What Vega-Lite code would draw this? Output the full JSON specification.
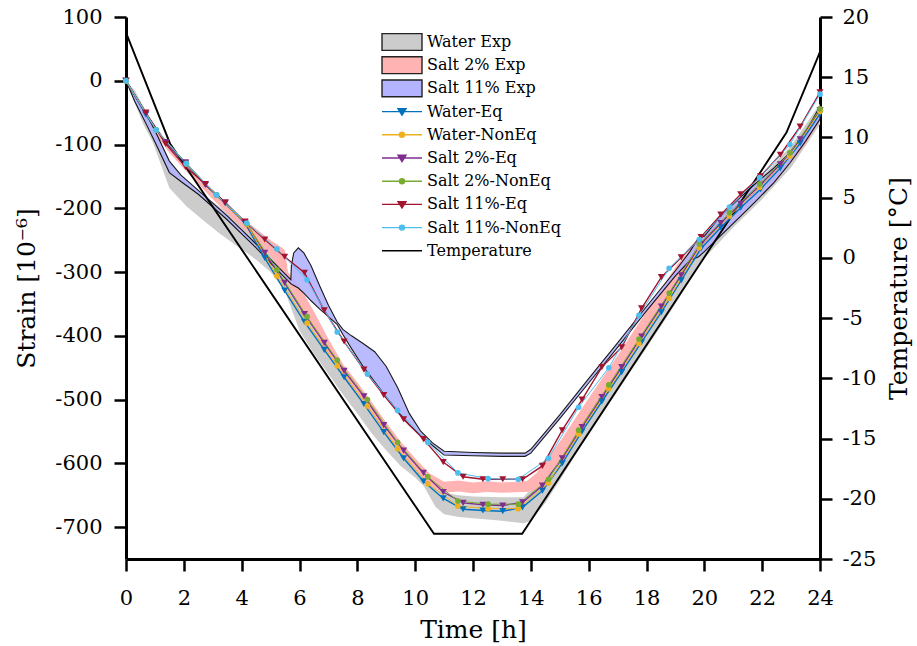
{
  "$schema": "https://vega.github.io/schema/vega-lite/v6.json",
  "width": 694,
  "height": 542,
  "autosize": {"type": "none"},
  "padding": {"left": 126, "top": 17, "right": 97, "bottom": 87},
  "background": "white",
  "config": {
    "view": {"stroke": null},
    "font": "DejaVu Serif",
    "axis": {
      "domainColor": "black", "domainWidth": 3, "tickColor": "black", "tickWidth": 2.5, "tickSize": 12,
      "labelFont": "DejaVu Serif", "labelFontSize": 21, "labelColor": "black", "labelPadding": 10,
      "titleFont": "DejaVu Serif", "titleFontSize": 25, "titleFontWeight": "normal", "titleColor": "black", "grid": false
    },
    "legend": {
      "padding": 0, "symbolSize": 100, "symbolStrokeWidth": 1.4, "symbolOffset": 12, "symbolOpacity": 1,
      "labelFont": "DejaVu Serif", "labelFontSize": 16, "labelColor": "black", "labelOffset": 17,
      "rowPadding": -0.8, "labelLimit": 400
    }
  },
  "datasets": {
    "bands": [
      {"series": "Water Exp", "t": 0, "hi": 0, "lo": 0},
      {"series": "Water Exp", "t": 0.3, "hi": -15, "lo": -35},
      {"series": "Water Exp", "t": 0.6, "hi": -40, "lo": -68},
      {"series": "Water Exp", "t": 0.94, "hi": -70, "lo": -98},
      {"series": "Water Exp", "t": 1.5, "hi": -128, "lo": -168},
      {"series": "Water Exp", "t": 2.1, "hi": -160, "lo": -197},
      {"series": "Water Exp", "t": 2.7, "hi": -180, "lo": -220},
      {"series": "Water Exp", "t": 3.25, "hi": -198, "lo": -240},
      {"series": "Water Exp", "t": 3.8, "hi": -216, "lo": -258},
      {"series": "Water Exp", "t": 4.4, "hi": -232, "lo": -277},
      {"series": "Water Exp", "t": 5.0, "hi": -256, "lo": -300},
      {"series": "Water Exp", "t": 5.5, "hi": -290, "lo": -330},
      {"series": "Water Exp", "t": 6.0, "hi": -340, "lo": -392},
      {"series": "Water Exp", "t": 6.5, "hi": -385, "lo": -428},
      {"series": "Water Exp", "t": 7.0, "hi": -420, "lo": -460},
      {"series": "Water Exp", "t": 7.5, "hi": -452, "lo": -492},
      {"series": "Water Exp", "t": 8.0, "hi": -482, "lo": -522},
      {"series": "Water Exp", "t": 8.5, "hi": -514, "lo": -553},
      {"series": "Water Exp", "t": 9.0, "hi": -547, "lo": -580},
      {"series": "Water Exp", "t": 9.5, "hi": -578, "lo": -604},
      {"series": "Water Exp", "t": 10.0, "hi": -604, "lo": -622},
      {"series": "Water Exp", "t": 10.3, "hi": -618, "lo": -636},
      {"series": "Water Exp", "t": 10.7, "hi": -635, "lo": -668},
      {"series": "Water Exp", "t": 11.0, "hi": -646, "lo": -680},
      {"series": "Water Exp", "t": 11.5, "hi": -650, "lo": -684},
      {"series": "Water Exp", "t": 12.0, "hi": -652, "lo": -686},
      {"series": "Water Exp", "t": 13.0, "hi": -653, "lo": -690},
      {"series": "Water Exp", "t": 13.75, "hi": -653, "lo": -694},
      {"series": "Water Exp", "t": 14.0, "hi": -640, "lo": -690},
      {"series": "Water Exp", "t": 14.5, "hi": -618, "lo": -662},
      {"series": "Water Exp", "t": 15.0, "hi": -587, "lo": -627},
      {"series": "Water Exp", "t": 15.5, "hi": -550, "lo": -590},
      {"series": "Water Exp", "t": 16.0, "hi": -515, "lo": -555},
      {"series": "Water Exp", "t": 16.5, "hi": -481, "lo": -521},
      {"series": "Water Exp", "t": 17.0, "hi": -447, "lo": -487},
      {"series": "Water Exp", "t": 17.5, "hi": -413, "lo": -453},
      {"series": "Water Exp", "t": 18.0, "hi": -379, "lo": -419},
      {"series": "Water Exp", "t": 18.5, "hi": -345, "lo": -385},
      {"series": "Water Exp", "t": 19.0, "hi": -310, "lo": -350},
      {"series": "Water Exp", "t": 19.5, "hi": -272, "lo": -312},
      {"series": "Water Exp", "t": 19.8, "hi": -250, "lo": -288},
      {"series": "Water Exp", "t": 20.3, "hi": -226, "lo": -264},
      {"series": "Water Exp", "t": 21.0, "hi": -193, "lo": -230},
      {"series": "Water Exp", "t": 22.0, "hi": -150, "lo": -186},
      {"series": "Water Exp", "t": 23.0, "hi": -102, "lo": -136},
      {"series": "Water Exp", "t": 24.0, "hi": -36, "lo": -68},

      {"series": "Salt 2% Exp", "t": 0, "hi": 0, "lo": 0},
      {"series": "Salt 2% Exp", "t": 0.5, "hi": -35, "lo": -40},
      {"series": "Salt 2% Exp", "t": 1.0, "hi": -74, "lo": -82},
      {"series": "Salt 2% Exp", "t": 1.5, "hi": -103, "lo": -113},
      {"series": "Salt 2% Exp", "t": 2.0, "hi": -126, "lo": -138},
      {"series": "Salt 2% Exp", "t": 3.0, "hi": -174, "lo": -186},
      {"series": "Salt 2% Exp", "t": 4.0, "hi": -216, "lo": -230},
      {"series": "Salt 2% Exp", "t": 4.5, "hi": -232, "lo": -248},
      {"series": "Salt 2% Exp", "t": 5.0, "hi": -250, "lo": -274},
      {"series": "Salt 2% Exp", "t": 5.4, "hi": -262, "lo": -300},
      {"series": "Salt 2% Exp", "t": 5.5, "hi": -266, "lo": -312},
      {"series": "Salt 2% Exp", "t": 5.6, "hi": -300, "lo": -318},
      {"series": "Salt 2% Exp", "t": 6.0, "hi": -322, "lo": -352},
      {"series": "Salt 2% Exp", "t": 6.5, "hi": -362, "lo": -392},
      {"series": "Salt 2% Exp", "t": 7.0, "hi": -405, "lo": -428},
      {"series": "Salt 2% Exp", "t": 7.5, "hi": -444, "lo": -462},
      {"series": "Salt 2% Exp", "t": 8.0, "hi": -473, "lo": -491},
      {"series": "Salt 2% Exp", "t": 8.5, "hi": -504, "lo": -522},
      {"series": "Salt 2% Exp", "t": 9.0, "hi": -536, "lo": -554},
      {"series": "Salt 2% Exp", "t": 9.5, "hi": -566, "lo": -584},
      {"series": "Salt 2% Exp", "t": 10.0, "hi": -592, "lo": -610},
      {"series": "Salt 2% Exp", "t": 10.5, "hi": -616, "lo": -634},
      {"series": "Salt 2% Exp", "t": 11.0, "hi": -629, "lo": -646},
      {"series": "Salt 2% Exp", "t": 11.5, "hi": -627, "lo": -644},
      {"series": "Salt 2% Exp", "t": 12.0, "hi": -630, "lo": -647},
      {"series": "Salt 2% Exp", "t": 12.5, "hi": -628, "lo": -645},
      {"series": "Salt 2% Exp", "t": 13.0, "hi": -630, "lo": -646},
      {"series": "Salt 2% Exp", "t": 13.85, "hi": -628, "lo": -645},
      {"series": "Salt 2% Exp", "t": 14.2, "hi": -615, "lo": -642},
      {"series": "Salt 2% Exp", "t": 15.0, "hi": -566, "lo": -595},
      {"series": "Salt 2% Exp", "t": 16.0, "hi": -498, "lo": -526},
      {"series": "Salt 2% Exp", "t": 17.0, "hi": -431, "lo": -457},
      {"series": "Salt 2% Exp", "t": 18.0, "hi": -362, "lo": -388},
      {"series": "Salt 2% Exp", "t": 19.0, "hi": -292, "lo": -318},
      {"series": "Salt 2% Exp", "t": 19.8, "hi": -248, "lo": -272},
      {"series": "Salt 2% Exp", "t": 20.5, "hi": -220, "lo": -242},
      {"series": "Salt 2% Exp", "t": 21.5, "hi": -178, "lo": -200},
      {"series": "Salt 2% Exp", "t": 22.5, "hi": -135, "lo": -156},
      {"series": "Salt 2% Exp", "t": 23.5, "hi": -80, "lo": -100},
      {"series": "Salt 2% Exp", "t": 24.0, "hi": -40, "lo": -62},

      {"series": "Salt 11% Exp", "t": 0, "hi": 0, "lo": 0},
      {"series": "Salt 11% Exp", "t": 0.3, "hi": -22, "lo": -32},
      {"series": "Salt 11% Exp", "t": 0.7, "hi": -52, "lo": -68},
      {"series": "Salt 11% Exp", "t": 1.0, "hi": -78, "lo": -96},
      {"series": "Salt 11% Exp", "t": 1.5, "hi": -126, "lo": -144},
      {"series": "Salt 11% Exp", "t": 1.9, "hi": -148, "lo": -158},
      {"series": "Salt 11% Exp", "t": 2.5, "hi": -172, "lo": -178},
      {"series": "Salt 11% Exp", "t": 3.0, "hi": -192, "lo": -198},
      {"series": "Salt 11% Exp", "t": 3.5, "hi": -212, "lo": -218},
      {"series": "Salt 11% Exp", "t": 4.0, "hi": -234, "lo": -240},
      {"series": "Salt 11% Exp", "t": 4.5, "hi": -256, "lo": -262},
      {"series": "Salt 11% Exp", "t": 5.0, "hi": -280, "lo": -286},
      {"series": "Salt 11% Exp", "t": 5.5, "hi": -303, "lo": -309},
      {"series": "Salt 11% Exp", "t": 5.7, "hi": -312, "lo": -318},
      {"series": "Salt 11% Exp", "t": 5.72, "hi": -290, "lo": -319},
      {"series": "Salt 11% Exp", "t": 5.8, "hi": -270, "lo": -321},
      {"series": "Salt 11% Exp", "t": 5.96, "hi": -262, "lo": -325},
      {"series": "Salt 11% Exp", "t": 6.15, "hi": -270, "lo": -333},
      {"series": "Salt 11% Exp", "t": 6.4, "hi": -290, "lo": -345},
      {"series": "Salt 11% Exp", "t": 6.7, "hi": -322, "lo": -358},
      {"series": "Salt 11% Exp", "t": 7.0, "hi": -352, "lo": -370},
      {"series": "Salt 11% Exp", "t": 7.3, "hi": -378, "lo": -382},
      {"series": "Salt 11% Exp", "t": 7.5, "hi": -390, "lo": -398},
      {"series": "Salt 11% Exp", "t": 7.8, "hi": -400, "lo": -420},
      {"series": "Salt 11% Exp", "t": 8.2, "hi": -412, "lo": -448},
      {"series": "Salt 11% Exp", "t": 8.6, "hi": -425, "lo": -472},
      {"series": "Salt 11% Exp", "t": 9.0, "hi": -448, "lo": -496},
      {"series": "Salt 11% Exp", "t": 9.4, "hi": -482, "lo": -518},
      {"series": "Salt 11% Exp", "t": 9.8, "hi": -522, "lo": -540},
      {"series": "Salt 11% Exp", "t": 10.2, "hi": -550, "lo": -556},
      {"series": "Salt 11% Exp", "t": 10.6, "hi": -568, "lo": -572},
      {"series": "Salt 11% Exp", "t": 11.0, "hi": -581, "lo": -587},
      {"series": "Salt 11% Exp", "t": 12.0, "hi": -583, "lo": -588},
      {"series": "Salt 11% Exp", "t": 13.0, "hi": -584, "lo": -589},
      {"series": "Salt 11% Exp", "t": 13.8, "hi": -584, "lo": -589},
      {"series": "Salt 11% Exp", "t": 14.0, "hi": -578, "lo": -584},
      {"series": "Salt 11% Exp", "t": 15.0, "hi": -524, "lo": -530},
      {"series": "Salt 11% Exp", "t": 16.0, "hi": -467, "lo": -474},
      {"series": "Salt 11% Exp", "t": 17.0, "hi": -411, "lo": -418},
      {"series": "Salt 11% Exp", "t": 18.0, "hi": -354, "lo": -361},
      {"series": "Salt 11% Exp", "t": 19.0, "hi": -298, "lo": -306},
      {"series": "Salt 11% Exp", "t": 19.5, "hi": -268, "lo": -282},
      {"series": "Salt 11% Exp", "t": 19.8, "hi": -246, "lo": -276},
      {"series": "Salt 11% Exp", "t": 20.0, "hi": -244, "lo": -268},
      {"series": "Salt 11% Exp", "t": 20.54, "hi": -213, "lo": -244},
      {"series": "Salt 11% Exp", "t": 21.24, "hi": -183, "lo": -213},
      {"series": "Salt 11% Exp", "t": 21.8, "hi": -160, "lo": -188},
      {"series": "Salt 11% Exp", "t": 22.4, "hi": -137, "lo": -160},
      {"series": "Salt 11% Exp", "t": 22.96, "hi": -113, "lo": -129},
      {"series": "Salt 11% Exp", "t": 23.5, "hi": -80, "lo": -95},
      {"series": "Salt 11% Exp", "t": 24.0, "hi": -40, "lo": -60}
    ],
    "temp": [
      {"t": 0, "T": 18.7},
      {"t": 1.52, "T": 9.5},
      {"t": 10.65, "T": -22.9},
      {"t": 13.7, "T": -22.9},
      {"t": 22.84, "T": 10.4},
      {"t": 23.88, "T": 16.4},
      {"t": 24, "T": 17.1}
    ],
    "models": [
      {"series": "Water-Eq", "t": 0, "s": 0}, {"series": "Water-Eq", "t": 0.686, "s": -53}, {"series": "Water-Eq", "t": 1.371, "s": -97}, {"series": "Water-Eq", "t": 2.057, "s": -129}, {"series": "Water-Eq", "t": 2.743, "s": -163}, {"series": "Water-Eq", "t": 3.429, "s": -192}, {"series": "Water-Eq", "t": 4.114, "s": -223}, {"series": "Water-Eq", "t": 4.8, "s": -278}, {"series": "Water-Eq", "t": 5.486, "s": -329}, {"series": "Water-Eq", "t": 6.171, "s": -378}, {"series": "Water-Eq", "t": 6.857, "s": -422}, {"series": "Water-Eq", "t": 7.543, "s": -465}, {"series": "Water-Eq", "t": 8.229, "s": -507}, {"series": "Water-Eq", "t": 8.914, "s": -551}, {"series": "Water-Eq", "t": 9.6, "s": -592}, {"series": "Water-Eq", "t": 10.286, "s": -628}, {"series": "Water-Eq", "t": 10.971, "s": -655}, {"series": "Water-Eq", "t": 11.657, "s": -672}, {"series": "Water-Eq", "t": 12.343, "s": -674}, {"series": "Water-Eq", "t": 13.029, "s": -675}, {"series": "Water-Eq", "t": 13.714, "s": -669}, {"series": "Water-Eq", "t": 14.4, "s": -643}, {"series": "Water-Eq", "t": 15.086, "s": -600}, {"series": "Water-Eq", "t": 15.771, "s": -550}, {"series": "Water-Eq", "t": 16.457, "s": -503}, {"series": "Water-Eq", "t": 17.143, "s": -457}, {"series": "Water-Eq", "t": 17.829, "s": -410}, {"series": "Water-Eq", "t": 18.514, "s": -363}, {"series": "Water-Eq", "t": 19.2, "s": -313}, {"series": "Water-Eq", "t": 19.886, "s": -263}, {"series": "Water-Eq", "t": 20.571, "s": -230}, {"series": "Water-Eq", "t": 21.257, "s": -199}, {"series": "Water-Eq", "t": 21.943, "s": -170}, {"series": "Water-Eq", "t": 22.629, "s": -137}, {"series": "Water-Eq", "t": 23.314, "s": -98}, {"series": "Water-Eq", "t": 24, "s": -52},

      {"series": "Water-NonEq", "t": 0, "s": 0}, {"series": "Water-NonEq", "t": 1.043, "s": -77}, {"series": "Water-NonEq", "t": 2.087, "s": -130}, {"series": "Water-NonEq", "t": 3.13, "s": -179}, {"series": "Water-NonEq", "t": 4.174, "s": -225}, {"series": "Water-NonEq", "t": 5.217, "s": -306}, {"series": "Water-NonEq", "t": 6.261, "s": -380}, {"series": "Water-NonEq", "t": 7.304, "s": -447}, {"series": "Water-NonEq", "t": 8.348, "s": -510}, {"series": "Water-NonEq", "t": 9.391, "s": -577}, {"series": "Water-NonEq", "t": 10.435, "s": -632}, {"series": "Water-NonEq", "t": 11.478, "s": -667}, {"series": "Water-NonEq", "t": 12.522, "s": -671}, {"series": "Water-NonEq", "t": 13.565, "s": -671}, {"series": "Water-NonEq", "t": 14.609, "s": -631}, {"series": "Water-NonEq", "t": 15.652, "s": -554}, {"series": "Water-NonEq", "t": 16.696, "s": -483}, {"series": "Water-NonEq", "t": 17.739, "s": -412}, {"series": "Water-NonEq", "t": 18.783, "s": -341}, {"series": "Water-NonEq", "t": 19.826, "s": -262}, {"series": "Water-NonEq", "t": 20.87, "s": -212}, {"series": "Water-NonEq", "t": 21.913, "s": -167}, {"series": "Water-NonEq", "t": 22.957, "s": -118}, {"series": "Water-NonEq", "t": 24, "s": -48},

      {"series": "Salt 2%-Eq", "t": 0, "s": 0}, {"series": "Salt 2%-Eq", "t": 0.686, "s": -51}, {"series": "Salt 2%-Eq", "t": 1.371, "s": -96}, {"series": "Salt 2%-Eq", "t": 2.057, "s": -128}, {"series": "Salt 2%-Eq", "t": 2.743, "s": -163}, {"series": "Salt 2%-Eq", "t": 3.429, "s": -191}, {"series": "Salt 2%-Eq", "t": 4.114, "s": -222}, {"series": "Salt 2%-Eq", "t": 4.8, "s": -270}, {"series": "Salt 2%-Eq", "t": 5.486, "s": -317}, {"series": "Salt 2%-Eq", "t": 6.171, "s": -366}, {"series": "Salt 2%-Eq", "t": 6.857, "s": -411}, {"series": "Salt 2%-Eq", "t": 7.543, "s": -455}, {"series": "Salt 2%-Eq", "t": 8.229, "s": -495}, {"series": "Salt 2%-Eq", "t": 8.914, "s": -540}, {"series": "Salt 2%-Eq", "t": 9.6, "s": -580}, {"series": "Salt 2%-Eq", "t": 10.286, "s": -615}, {"series": "Salt 2%-Eq", "t": 10.971, "s": -645}, {"series": "Salt 2%-Eq", "t": 11.657, "s": -662}, {"series": "Salt 2%-Eq", "t": 12.343, "s": -665}, {"series": "Salt 2%-Eq", "t": 13.029, "s": -666}, {"series": "Salt 2%-Eq", "t": 13.714, "s": -661}, {"series": "Salt 2%-Eq", "t": 14.4, "s": -635}, {"series": "Salt 2%-Eq", "t": 15.086, "s": -592}, {"series": "Salt 2%-Eq", "t": 15.771, "s": -543}, {"series": "Salt 2%-Eq", "t": 16.457, "s": -496}, {"series": "Salt 2%-Eq", "t": 17.143, "s": -449}, {"series": "Salt 2%-Eq", "t": 17.829, "s": -401}, {"series": "Salt 2%-Eq", "t": 18.514, "s": -354}, {"series": "Salt 2%-Eq", "t": 19.2, "s": -305}, {"series": "Salt 2%-Eq", "t": 19.886, "s": -256}, {"series": "Salt 2%-Eq", "t": 20.571, "s": -223}, {"series": "Salt 2%-Eq", "t": 21.257, "s": -193}, {"series": "Salt 2%-Eq", "t": 21.943, "s": -163}, {"series": "Salt 2%-Eq", "t": 22.629, "s": -131}, {"series": "Salt 2%-Eq", "t": 23.314, "s": -92}, {"series": "Salt 2%-Eq", "t": 24, "s": -46},

      {"series": "Salt 2%-NonEq", "t": 0, "s": 0}, {"series": "Salt 2%-NonEq", "t": 1.043, "s": -77}, {"series": "Salt 2%-NonEq", "t": 2.087, "s": -130}, {"series": "Salt 2%-NonEq", "t": 3.13, "s": -179}, {"series": "Salt 2%-NonEq", "t": 4.174, "s": -224}, {"series": "Salt 2%-NonEq", "t": 5.217, "s": -296}, {"series": "Salt 2%-NonEq", "t": 6.261, "s": -370}, {"series": "Salt 2%-NonEq", "t": 7.304, "s": -438}, {"series": "Salt 2%-NonEq", "t": 8.348, "s": -500}, {"series": "Salt 2%-NonEq", "t": 9.391, "s": -567}, {"series": "Salt 2%-NonEq", "t": 10.435, "s": -621}, {"series": "Salt 2%-NonEq", "t": 11.478, "s": -659}, {"series": "Salt 2%-NonEq", "t": 12.522, "s": -664}, {"series": "Salt 2%-NonEq", "t": 13.565, "s": -664}, {"series": "Salt 2%-NonEq", "t": 14.609, "s": -625}, {"series": "Salt 2%-NonEq", "t": 15.652, "s": -548}, {"series": "Salt 2%-NonEq", "t": 16.696, "s": -477}, {"series": "Salt 2%-NonEq", "t": 17.739, "s": -405}, {"series": "Salt 2%-NonEq", "t": 18.783, "s": -333}, {"series": "Salt 2%-NonEq", "t": 19.826, "s": -256}, {"series": "Salt 2%-NonEq", "t": 20.87, "s": -207}, {"series": "Salt 2%-NonEq", "t": 21.913, "s": -162}, {"series": "Salt 2%-NonEq", "t": 22.957, "s": -113}, {"series": "Salt 2%-NonEq", "t": 24, "s": -44},

      {"series": "Salt 11%-Eq", "t": 0, "s": 0}, {"series": "Salt 11%-Eq", "t": 0.686, "s": -50}, {"series": "Salt 11%-Eq", "t": 1.371, "s": -99}, {"series": "Salt 11%-Eq", "t": 2.057, "s": -135}, {"series": "Salt 11%-Eq", "t": 2.743, "s": -162}, {"series": "Salt 11%-Eq", "t": 3.429, "s": -191}, {"series": "Salt 11%-Eq", "t": 4.114, "s": -221}, {"series": "Salt 11%-Eq", "t": 4.8, "s": -249}, {"series": "Salt 11%-Eq", "t": 5.486, "s": -276}, {"series": "Salt 11%-Eq", "t": 6.171, "s": -301}, {"series": "Salt 11%-Eq", "t": 6.857, "s": -360}, {"series": "Salt 11%-Eq", "t": 7.543, "s": -409}, {"series": "Salt 11%-Eq", "t": 8.229, "s": -453}, {"series": "Salt 11%-Eq", "t": 8.914, "s": -493}, {"series": "Salt 11%-Eq", "t": 9.6, "s": -531}, {"series": "Salt 11%-Eq", "t": 10.286, "s": -562}, {"series": "Salt 11%-Eq", "t": 10.971, "s": -598}, {"series": "Salt 11%-Eq", "t": 11.657, "s": -621}, {"series": "Salt 11%-Eq", "t": 12.343, "s": -625}, {"series": "Salt 11%-Eq", "t": 13.029, "s": -625}, {"series": "Salt 11%-Eq", "t": 13.714, "s": -625}, {"series": "Salt 11%-Eq", "t": 14.4, "s": -604}, {"series": "Salt 11%-Eq", "t": 15.086, "s": -548}, {"series": "Salt 11%-Eq", "t": 15.771, "s": -500}, {"series": "Salt 11%-Eq", "t": 16.457, "s": -449}, {"series": "Salt 11%-Eq", "t": 17.143, "s": -418}, {"series": "Salt 11%-Eq", "t": 17.829, "s": -357}, {"series": "Salt 11%-Eq", "t": 18.514, "s": -308}, {"series": "Salt 11%-Eq", "t": 19.2, "s": -277}, {"series": "Salt 11%-Eq", "t": 19.886, "s": -245}, {"series": "Salt 11%-Eq", "t": 20.571, "s": -210}, {"series": "Salt 11%-Eq", "t": 21.257, "s": -178}, {"series": "Salt 11%-Eq", "t": 21.943, "s": -150}, {"series": "Salt 11%-Eq", "t": 22.629, "s": -116}, {"series": "Salt 11%-Eq", "t": 23.314, "s": -72}, {"series": "Salt 11%-Eq", "t": 24, "s": -18},

      {"series": "Salt 11%-NonEq", "t": 0, "s": 0}, {"series": "Salt 11%-NonEq", "t": 1.043, "s": -77}, {"series": "Salt 11%-NonEq", "t": 2.087, "s": -130}, {"series": "Salt 11%-NonEq", "t": 3.13, "s": -179}, {"series": "Salt 11%-NonEq", "t": 4.174, "s": -223}, {"series": "Salt 11%-NonEq", "t": 5.217, "s": -264}, {"series": "Salt 11%-NonEq", "t": 6.261, "s": -312}, {"series": "Salt 11%-NonEq", "t": 7.304, "s": -394}, {"series": "Salt 11%-NonEq", "t": 8.348, "s": -460}, {"series": "Salt 11%-NonEq", "t": 9.391, "s": -517}, {"series": "Salt 11%-NonEq", "t": 10.435, "s": -567}, {"series": "Salt 11%-NonEq", "t": 11.478, "s": -615}, {"series": "Salt 11%-NonEq", "t": 12.522, "s": -624}, {"series": "Salt 11%-NonEq", "t": 13.565, "s": -625}, {"series": "Salt 11%-NonEq", "t": 14.609, "s": -592}, {"series": "Salt 11%-NonEq", "t": 15.652, "s": -512}, {"series": "Salt 11%-NonEq", "t": 16.696, "s": -450}, {"series": "Salt 11%-NonEq", "t": 17.739, "s": -368}, {"series": "Salt 11%-NonEq", "t": 18.783, "s": -294}, {"series": "Salt 11%-NonEq", "t": 19.826, "s": -249}, {"series": "Salt 11%-NonEq", "t": 20.87, "s": -198}, {"series": "Salt 11%-NonEq", "t": 21.913, "s": -152}, {"series": "Salt 11%-NonEq", "t": 22.957, "s": -100}, {"series": "Salt 11%-NonEq", "t": 24, "s": -21}
    ]
  },
  "encoding": {
    "x": {
      "field": "t", "type": "quantitative",
      "scale": {"domain": [0, 24], "nice": false, "zero": false},
      "axis": {"title": "Time [h]", "values": [0, 2, 4, 6, 8, 10, 12, 14, 16, 18, 20, 22, 24], "labelPadding": 16, "titlePadding": 9, "labelFlush": false}
    }
  },
  "layer": [
    {
      "data": {"name": "bands"},
      "encoding": {
        "y": {
          "field": "hi", "type": "quantitative",
          "scale": {"domain": [-750, 100], "nice": false, "zero": false},
          "axis": {"orient": "left", "title": "Strain [10⁻⁶]", "values": [-700, -600, -500, -400, -300, -200, -100, 0, 100], "labelExpr": "datum.value < 0 ? '-' + format(-datum.value, 'd') : format(datum.value, 'd')", "titlePadding": 15, "labelPadding": 12}
        },
        "y2": {"field": "lo"},
        "color": {
          "field": "series", "type": "nominal", "legend": null,
          "scale": {
            "domain": ["Water Exp", "Salt 2% Exp", "Salt 11% Exp", "Water-Eq", "Water-NonEq", "Salt 2%-Eq", "Salt 2%-NonEq", "Salt 11%-Eq", "Salt 11%-NonEq"],
            "range": ["#CCCCCC", "#FFB3B3", "#B3B3FF", "#0072BD", "#EDB120", "#7E2F8E", "#77AC30", "#A2142F", "#4DBEEE"]
          }
        }
      },
      "layer": [
        {"transform": [{"filter": "datum.series == 'Water Exp'"}], "mark": {"type": "area", "opacity": 1}},
        {"transform": [{"filter": "datum.series == 'Salt 2% Exp'"}], "mark": {"type": "area", "opacity": 1}},
        {"transform": [{"filter": "datum.series == 'Salt 11% Exp'"}], "mark": {"type": "area", "opacity": 0.9, "stroke": "black", "strokeWidth": 1.1}}
      ]
    },
    {
      "data": {"name": "temp"},
      "mark": {"type": "line", "color": "black", "strokeWidth": 1.9},
      "encoding": {
        "y": {
          "field": "T", "type": "quantitative",
          "scale": {"domain": [-25, 20], "nice": false, "zero": false},
          "axis": {"orient": "right", "title": "Temperature [°C]", "values": [-25, -20, -15, -10, -5, 0, 5, 10, 15, 20], "labelExpr": "datum.value < 0 ? '-' + format(-datum.value, 'd') : format(datum.value, 'd')", "titleAngle": 270, "titleBaseline": "top", "titlePadding": 11, "labelPadding": 10}
        }
      }
    },
    {
      "data": {"name": "models"},
      "encoding": {
        "y": {"field": "s", "type": "quantitative", "scale": {"domain": [-750, 100], "nice": false, "zero": false}, "axis": null},
        "color": {"field": "series", "type": "nominal", "legend": null}
      },
      "layer": [
        {"transform": [{"filter": "indexof(datum.series, 'NonEq') < 0"}], "mark": {"type": "line", "strokeWidth": 1.4}},
        {"transform": [{"filter": "indexof(datum.series, 'NonEq') >= 0"}], "mark": {"type": "line", "strokeWidth": 1.0}},
        {"transform": [{"filter": "indexof(datum.series, 'NonEq') < 0"}], "mark": {"type": "point", "shape": "triangle-down", "filled": true, "size": 50, "opacity": 1}},
        {"transform": [{"filter": "indexof(datum.series, 'NonEq') >= 0"}], "mark": {"type": "point", "shape": "circle", "filled": true, "size": 32, "opacity": 1}},
        {
          "transform": [{"filter": "datum.t < 0"}],
          "mark": {"type": "point", "opacity": 1},
          "encoding": {
            "color": {"value": "black"},
            "fill": {
              "field": "series", "type": "nominal", "title": null,
              "scale": {
                "domain": ["Water Exp", "Salt 2% Exp", "Salt 11% Exp", "Water-Eq", "Water-NonEq", "Salt 2%-Eq", "Salt 2%-NonEq", "Salt 11%-Eq", "Salt 11%-NonEq", "Temperature"],
                "range": ["#CCCCCC", "#FFB3B3", "#B3B3FF", "#0072BD", "#EDB120", "#7E2F8E", "#77AC30", "#A2142F", "#4DBEEE", "#000000"]
              },
              "legend": {"orient": "none", "legendX": 256, "legendY": 17, "title": null}
            },
            "stroke": {
              "field": "series", "type": "nominal", "title": null,
              "scale": {
                "domain": ["Water Exp", "Salt 2% Exp", "Salt 11% Exp", "Water-Eq", "Water-NonEq", "Salt 2%-Eq", "Salt 2%-NonEq", "Salt 11%-Eq", "Salt 11%-NonEq", "Temperature"],
                "range": ["#222222", "#222222", "#222222", "#0072BD", "#EDB120", "#7E2F8E", "#77AC30", "#A2142F", "#4DBEEE", "#000000"]
              },
              "legend": {"orient": "none", "legendX": 256, "legendY": 17, "title": null}
            },
            "shape": {
              "field": "series", "type": "nominal", "title": null,
              "scale": {
                "domain": ["Water Exp", "Salt 2% Exp", "Salt 11% Exp", "Water-Eq", "Water-NonEq", "Salt 2%-Eq", "Salt 2%-NonEq", "Salt 11%-Eq", "Salt 11%-NonEq", "Temperature"],
                "range": [
                  "M-4,-1.68H4V1.68H-4Z", "M-4,-1.68H4V1.68H-4Z", "M-4,-1.68H4V1.68H-4Z",
                  "M-4,0H4M-0.8,-0.56L0.8,-0.56L0,0.72ZM0,-1.68L0,-1.68M0,1.68L0,1.68",
                  "M-4,0H4M-0.5,0A0.5,0.5,0,1,0,0.5,0A0.5,0.5,0,1,0,-0.5,0ZM0,-1.68L0,-1.68M0,1.68L0,1.68",
                  "M-4,0H4M-0.8,-0.56L0.8,-0.56L0,0.72ZM0,-1.68L0,-1.68M0,1.68L0,1.68",
                  "M-4,0H4M-0.5,0A0.5,0.5,0,1,0,0.5,0A0.5,0.5,0,1,0,-0.5,0ZM0,-1.68L0,-1.68M0,1.68L0,1.68",
                  "M-4,0H4M-0.8,-0.56L0.8,-0.56L0,0.72ZM0,-1.68L0,-1.68M0,1.68L0,1.68",
                  "M-4,0H4M-0.5,0A0.5,0.5,0,1,0,0.5,0A0.5,0.5,0,1,0,-0.5,0ZM0,-1.68L0,-1.68M0,1.68L0,1.68",
                  "M-4,0H4M0,-1.68L0,-1.68M0,1.68L0,1.68"
                ]
              },
              "legend": {"orient": "none", "legendX": 256, "legendY": 17, "title": null}
            }
          }
        }
      ]
    }
  ],
  "resolve": {"scale": {"y": "independent"}}
}
